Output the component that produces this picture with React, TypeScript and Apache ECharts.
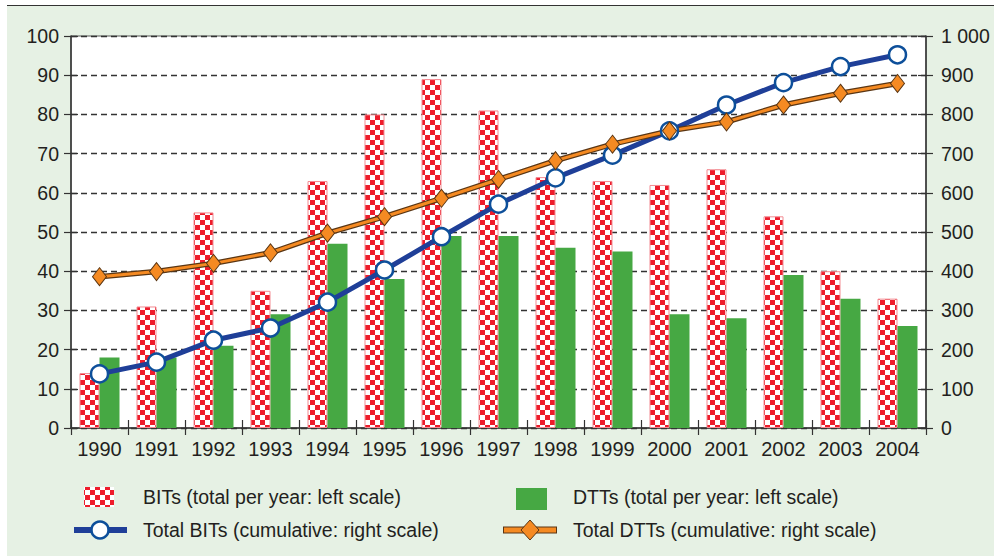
import React, { useEffect, useRef } from "react";
import * as echarts from "echarts";

const years = ["1990", "1991", "1992", "1993", "1994", "1995", "1996", "1997", "1998", "1999", "2000", "2001", "2002", "2003", "2004"];
const bitsPerYear = [14, 31, 55, 35, 63, 80, 89, 81, 64, 63, 62, 66, 54, 40, 33];
const dttsPerYear = [18, 18, 21, 29, 47, 38, 49, 49, 46, 45, 29, 28, 39, 33, 26];
const bitsCumulative = [138, 168, 224, 255, 321, 403, 488, 571, 638, 696, 758, 824, 881, 922, 952];
const dttsCumulative = [386, 399, 420, 447, 497, 539, 586, 634, 682, 724, 758, 781, 824, 854, 879];
const leftTicks = { min: 0, max: 100, interval: 10 };
const rightTicks = { min: 0, max: 1000, interval: 100 };
const legendLabels = [
  "BITs (total per year: left scale)",
  "DTTs (total per year: left scale)",
  "Total BITs (cumulative: right scale)",
  "Total DTTs (cumulative: right scale)",
];

const RED = "#ee1c2b";
const GREEN = "#46a843";
const BLUE = "#1f3f98";
const ORANGE = "#f58a22";
const DARK = "#5a3614";
const TEXT = "#231f20";
const FONT = "Liberation Sans, Arial, sans-serif";

function checker(cell: number) {
  const s = cell * 2;
  const svg =
    `<svg xmlns="http://www.w3.org/2000/svg" width="${s}" height="${s}" shape-rendering="crispEdges">` +
    `<rect width="${s}" height="${s}" fill="#ffffff"/>` +
    `<rect width="${cell}" height="${cell}" fill="${RED}"/>` +
    `<rect x="${cell}" y="${cell}" width="${cell}" height="${cell}" fill="${RED}"/></svg>`;
  return {
    image: "data:image/svg+xml;charset=utf-8," + encodeURIComponent(svg),
    repeat: "repeat",
    imageWidth: s,
    imageHeight: s,
  } as any;
}

export default function App() {
  const ref = useRef<HTMLDivElement>(null);
  useEffect(() => {
    const chart = echarts.init(ref.current!, undefined, { renderer: "svg" });
    const barPattern = checker(5);
    const legendPattern = checker(5);
    const lineY = 530;
    const row1 = 497;
    const lf = `19.5px ${FONT}`;
    chart.setOption({
      animation: false,
      backgroundColor: "transparent",
      grid: {
        left: 71,
        top: 36,
        width: 855,
        height: 392,
        show: true,
        backgroundColor: "#ffffff",
        borderColor: "#555",
        borderWidth: 1,
      },
      xAxis: [
        {
          type: "category",
          data: years,
          position: "bottom",
          axisLine: { lineStyle: { color: "#333", width: 1.5 } },
          axisTick: { show: true, length: 7, lineStyle: { color: "#333", width: 1.2 } },
          axisLabel: { color: TEXT, fontSize: 20, fontFamily: FONT, margin: 11, interval: 0, hideOverlap: false },
        },
        {
          type: "category",
          data: years,
          position: "bottom",
          axisLine: { show: false },
          axisTick: { show: true, inside: true, length: 8, lineStyle: { color: "#333", width: 1.2 } },
          axisLabel: { show: false },
        },
      ],
      yAxis: [
        {
          type: "value",
          ...leftTicks,
          position: "left",
          axisLine: { show: true, lineStyle: { color: "#333", width: 1.5 } },
          axisTick: { show: true, length: 7, lineStyle: { color: "#333", width: 1.2 } },
          axisLabel: { color: TEXT, fontSize: 19.5, fontFamily: FONT, margin: 12 },
          splitLine: { show: true, lineStyle: { color: "#333", width: 1.4, type: [6, 4] } },
        },
        {
          type: "value",
          ...rightTicks,
          position: "right",
          axisLine: { show: true, lineStyle: { color: "#333", width: 1.5 } },
          axisTick: { show: true, length: 7, lineStyle: { color: "#333", width: 1.2 } },
          axisLabel: {
            color: TEXT,
            fontSize: 19.5,
            fontFamily: FONT,
            margin: 15,
            formatter: (v: number) => (v >= 1000 ? String(v).replace(/(\d)(\d{3})$/, "$1 $2") : String(v)),
          },
          splitLine: { show: false },
        },
        {
          type: "value",
          ...leftTicks,
          position: "left",
          axisLine: { show: false },
          axisTick: { show: true, inside: true, length: 7, lineStyle: { color: "#333", width: 1.2 } },
          axisLabel: { show: false },
          splitLine: { show: false },
        },
        {
          type: "value",
          ...rightTicks,
          position: "right",
          axisLine: { show: false },
          axisTick: { show: true, inside: true, length: 8, lineStyle: { color: "#333", width: 1.2 } },
          axisLabel: { show: false },
          splitLine: { show: false },
        },
      ],
      series: [
        {
          name: legendLabels[0],
          type: "bar",
          data: bitsPerYear,
          yAxisIndex: 0,
          barWidth: 20,
          barGap: "0%",
          itemStyle: { color: barPattern, borderColor: "#f38b92", borderWidth: 1 },
        },
        {
          name: legendLabels[1],
          type: "bar",
          data: dttsPerYear,
          yAxisIndex: 0,
          barWidth: 20,
          barGap: "0%",
          itemStyle: { color: GREEN },
        },
        {
          name: legendLabels[2],
          type: "line",
          data: bitsCumulative,
          yAxisIndex: 1,
          symbol: "circle",
          symbolSize: 17,
          lineStyle: { color: BLUE, width: 5 },
          itemStyle: { color: "#ffffff", borderColor: "#0d4f9a", borderWidth: 2.5 },
        },
        {
          name: "dtt-outline",
          type: "line",
          data: dttsCumulative,
          yAxisIndex: 1,
          symbol: "none",
          lineStyle: { color: DARK, width: 5.5 },
          silent: true,
        },
        {
          name: legendLabels[3],
          type: "line",
          data: dttsCumulative,
          yAxisIndex: 1,
          symbol: "diamond",
          symbolSize: [14, 18],
          lineStyle: { color: ORANGE, width: 3 },
          itemStyle: { color: ORANGE, borderColor: DARK, borderWidth: 1 },
        },
      ],
      graphic: [
        { type: "rect", shape: { x: 84, y: 487, width: 30, height: 20 }, style: { fill: legendPattern } },
        { type: "text", x: 143, y: row1, style: { text: legendLabels[0], font: lf, fill: TEXT, verticalAlign: "middle" } },
        { type: "rect", shape: { x: 516, y: 488, width: 31, height: 22 }, style: { fill: GREEN } },
        { type: "text", x: 573, y: row1, style: { text: legendLabels[1], font: lf, fill: TEXT, verticalAlign: "middle" } },
        { type: "line", shape: { x1: 74, y1: lineY, x2: 127, y2: lineY }, style: { stroke: BLUE, lineWidth: 6 } },
        { type: "circle", shape: { cx: 100, cy: lineY, r: 8.5 }, style: { fill: "#fff", stroke: "#0d4f9a", lineWidth: 2.5 } },
        { type: "text", x: 143, y: lineY, style: { text: legendLabels[2], font: lf, fill: TEXT, verticalAlign: "middle" } },
        { type: "line", shape: { x1: 503, y1: lineY, x2: 557, y2: lineY }, style: { stroke: DARK, lineWidth: 7 } },
        { type: "line", shape: { x1: 504, y1: lineY, x2: 556, y2: lineY }, style: { stroke: ORANGE, lineWidth: 5 } },
        { type: "polygon", shape: { points: [[530, lineY - 10], [539, lineY], [530, lineY + 10], [521, lineY]] }, style: { fill: ORANGE, stroke: DARK, lineWidth: 1 } },
        { type: "text", x: 573, y: lineY, style: { text: legendLabels[3], font: lf, fill: TEXT, verticalAlign: "middle" } },
      ],
    });
    return () => chart.dispose();
  }, []);
  return (
    <div style={{ position: "absolute", left: 0, top: 0, width: 994, height: 556, background: "#ffffff" }}>
      <div style={{ position: "absolute", left: 7, top: 5, width: 987, height: 551, background: "#e6f1e4", borderTop: "1.5px solid #333" }} />
      <div ref={ref} style={{ position: "absolute", left: 0, top: 0, width: 994, height: 556 }} />
    </div>
  );
}
